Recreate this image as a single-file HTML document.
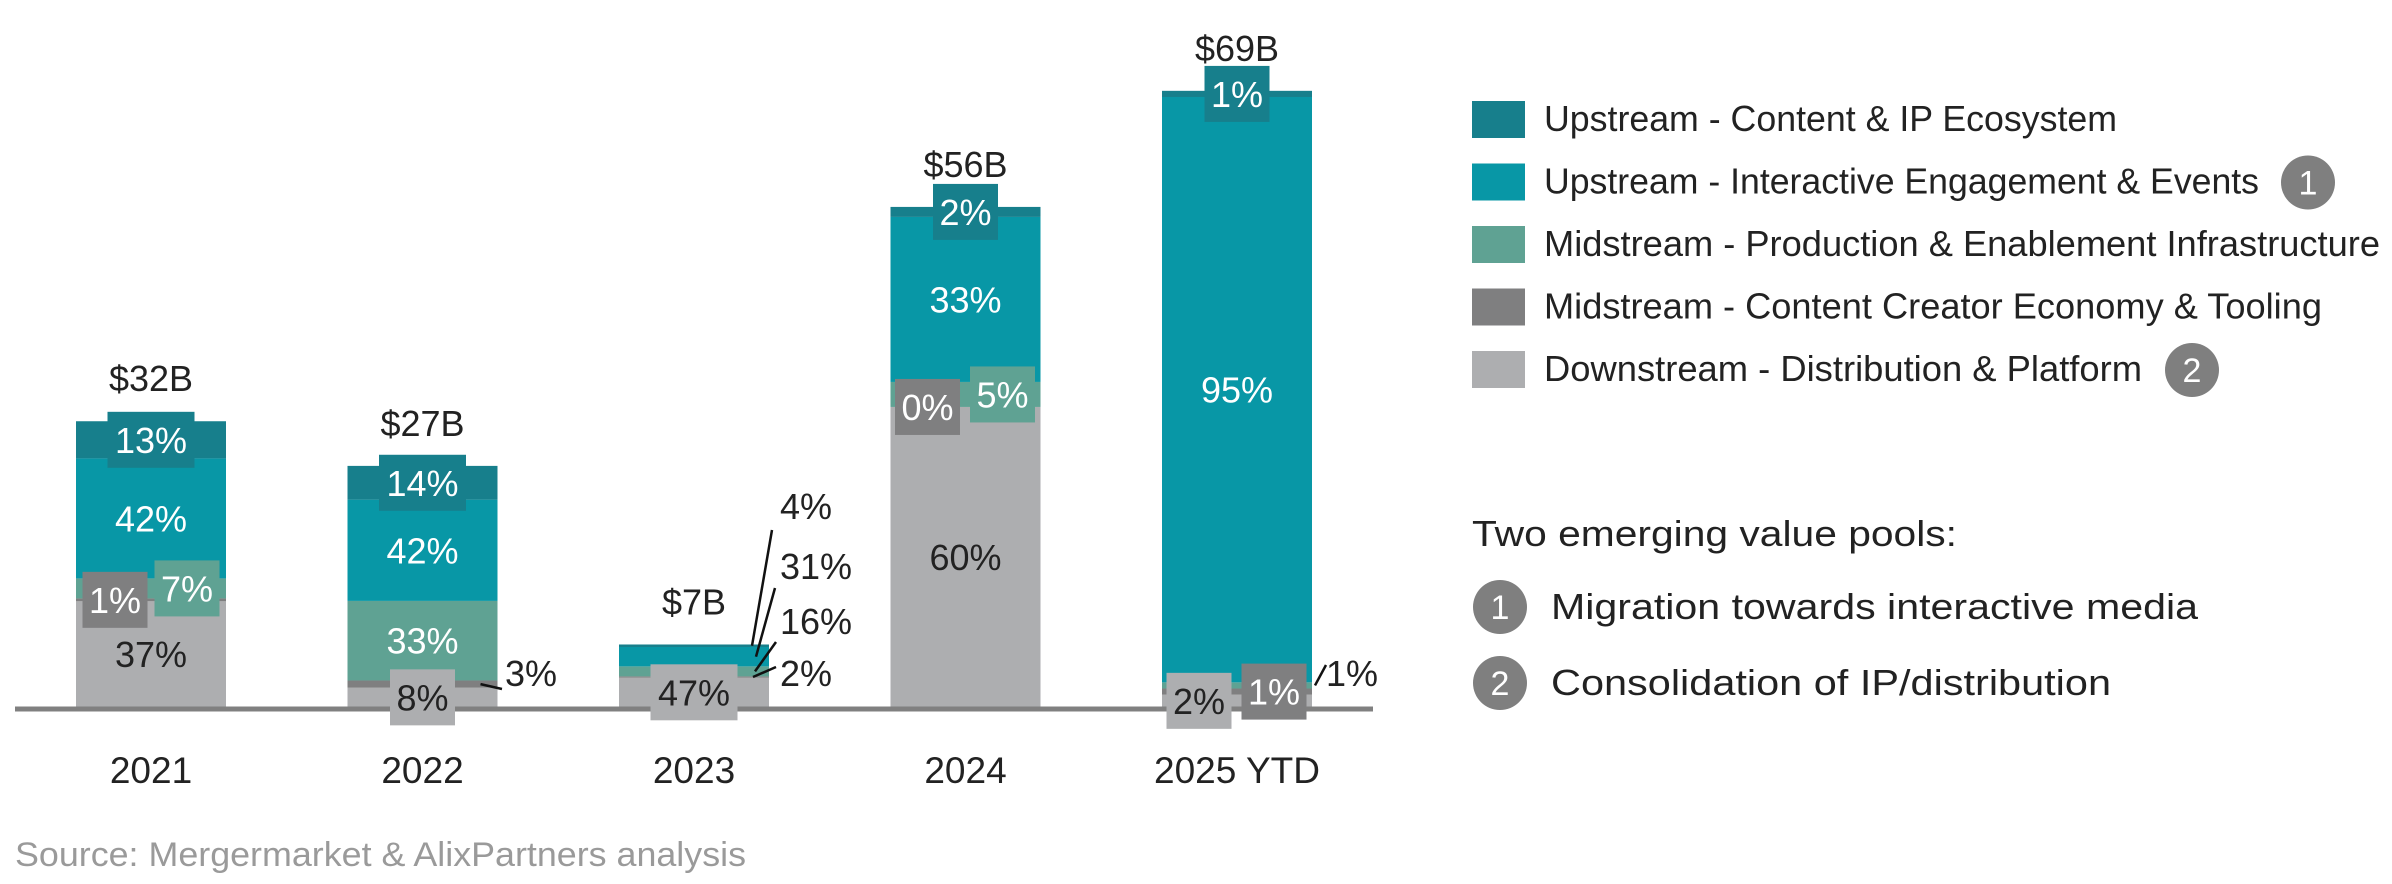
<!DOCTYPE html>
<html><head><meta charset="utf-8"><style>
html,body{margin:0;padding:0;background:#fff;}
svg{display:block;font-family:"Liberation Sans",sans-serif;}
</style></head><body>
<svg id="chart" width="2392" height="884" viewBox="0 0 2392 884" xmlns="http://www.w3.org/2000/svg">
<g id="bars"></g>
<line x1="15" y1="709" x2="1373" y2="709" stroke="#808080" stroke-width="5"/>
<g id="labels"></g>
<g id="xlabels"></g>
<g id="legend"></g>
<g font-size="36" fill="#222">
 <text x="1472" y="546" textLength="485" lengthAdjust="spacingAndGlyphs">Two emerging value pools:</text>
 <circle cx="1500" cy="607" r="27" fill="#7f7f7f"/>
 <text x="1500" y="619" fill="#fff" text-anchor="middle" font-size="34">1</text>
 <text x="1551" y="619" textLength="647" lengthAdjust="spacingAndGlyphs">Migration towards interactive media</text>
 <circle cx="1500" cy="683" r="27" fill="#7f7f7f"/>
 <text x="1500" y="695" fill="#fff" text-anchor="middle" font-size="34">2</text>
 <text x="1551" y="695" textLength="560" lengthAdjust="spacingAndGlyphs">Consolidation of IP/distribution</text>
</g>
<text x="15" y="866" font-size="34" fill="#9a9a9a" textLength="731" lengthAdjust="spacingAndGlyphs">Source: Mergermarket &amp; AlixPartners analysis</text>
</svg>
<script>
const categories = ["2021","2022","2023","2024","2025 YTD"];
const totals = [32, 27, 7, 56, 69];
// shares bottom-up: downstream, creator, infra, interactive, content
const downstream = [37, 8, 47, 60, 2];
const creator = [1, 3, 2, 0, 1];
const infra = [7, 33, 16, 5, 1];
const interactive = [42, 42, 31, 33, 95];
const content = [13, 14, 4, 2, 1];
const seriesNames = ["Downstream - Distribution & Platform","Midstream - Content Creator Economy & Tooling","Midstream - Production & Enablement Infrastructure","Upstream - Interactive Engagement & Events","Upstream - Content & IP Ecosystem"];

const colors = ["#adaeb0","#7f7f80","#5fa293","#0897a6","#177f8c"];
const textColors = ["#222","#fff","#fff","#fff","#fff"];
const series = [downstream, creator, infra, interactive, content];
const NS = "http://www.w3.org/2000/svg";
const baseY = 707, pxPerB = 8.93, barW = 150, x0 = 151, step = 271.5;
const xC = i => x0 + i * step;
const yV = v => baseY - v * pxPerB;

const labelStyle = [
 [["in",0],["box",-36],["box",36],["in",0],["box",0]],
 [["box",0],["out",0],["in",0],["in",0],["box",0]],
 [["box",0],["out",0],["out",0],["out",0],["out",0]],
 [["in",0],["box",-38],["box",37],["in",0],["box",0]],
 [["box",-38],["box",37],["out",0],["in",0],["box",0]]
];
// outside label placement: [text x, text center y, leader start dx from bar center, leader end x, leader end y]
const outPos = {
 "1-1":[505,673,58,502,689],
 "2-4":[780,506,58,772,530],
 "2-3":[780,566,62,775,588],
 "2-2":[780,621,61,776,642],
 "2-1":[780,673,59,776,667],
 "4-2":[1326,673,78,1326,665]
};

const gb = document.getElementById("bars"), gl = document.getElementById("labels"), gx = document.getElementById("xlabels");
function mk(tag, attrs, parent){const e=document.createElementNS(NS,tag);for(const k in attrs)e.setAttribute(k,attrs[k]);parent.appendChild(e);return e;}

categories.forEach((cat, i) => {
  let cum = 0;
  const segs = [];
  series.forEach((s, j) => {
    const v0 = totals[i] * cum / 100, v1 = totals[i] * (cum + s[i]) / 100;
    cum += s[i];
    const r = mk("rect", {x: xC(i) - barW/2, y: yV(v1), width: barW, height: Math.max(0, yV(v0) - yV(v1)), fill: colors[j]}, gb);
    
    
    segs.push([yV(v0), yV(v1)]);
  });
  const tt = mk("text", {x: xC(i), y: yV(totals[i]) - 30, "text-anchor": "middle", "font-size": 36, fill: "#222"}, gl);
  tt.textContent = "$" + totals[i] + "B";
  
  
  series.forEach((s, j) => {
    const st = labelStyle[i][j];
    const mode = st[0], dx = st[1];
    const cy = (segs[j][0] + segs[j][1]) / 2;
    const txt = s[i] + "%";
    const key = i + "-" + j;
    if (mode === "out") {
      const p = outPos[key];
      const ln = mk("line", {x1: xC(i) + p[2], y1: cy, x2: p[3], y2: p[4], stroke: "#111", "stroke-width": 2.5}, gl);
      
      
      const t = mk("text", {x: p[0], y: p[1] + 13, "font-size": 36, fill: "#222"}, gl);
      t.textContent = txt;
      
      
      return;
    }
    const cx = xC(i) + dx;
    if (mode === "box") {
      const w = txt.length * 22 + 21;
      const b = mk("rect", {x: cx - w/2, y: cy - 28, width: w, height: 56, fill: colors[j]}, gl);
      
      
    }
    const t = mk("text", {x: cx, y: cy + 13, "text-anchor": "middle", "font-size": 36, fill: textColors[j]}, gl);
    t.textContent = txt;
    
    
  });
  const xl = mk("text", {x: xC(i), y: 783, "text-anchor": "middle", "font-size": 37, fill: "#222"}, gx);
  xl.textContent = cat;
  
  
});

const lg = document.getElementById("legend");
const legendOrder = [4,3,2,1,0];
const legendWidths = [573, 715, 836, 778, 598];
const badges = {3: ["1", 2308], 0: ["2", 2192]};
legendOrder.forEach((j, k) => {
  const y = 119 + k * 62.5;
  const sq = mk("rect", {x: 1472, y: y - 18, width: 53, height: 37, fill: colors[j]}, lg);
  
  
  const t = mk("text", {x: 1544, y: y + 12, "font-size": 36, fill: "#222", textLength: legendWidths[k], lengthAdjust: "spacingAndGlyphs"}, lg);
  t.textContent = seriesNames[j];
  
  
  if (badges[j]) {
    const c = mk("circle", {cx: badges[j][1], cy: y + 1, r: 27, fill: "#7f7f7f"}, lg);
    
    
    const n = mk("text", {x: badges[j][1], y: y + 13, "text-anchor": "middle", "font-size": 34, fill: "#fff"}, lg);
    n.textContent = badges[j][0];
    
    
  }
});
</script>
</body></html>
